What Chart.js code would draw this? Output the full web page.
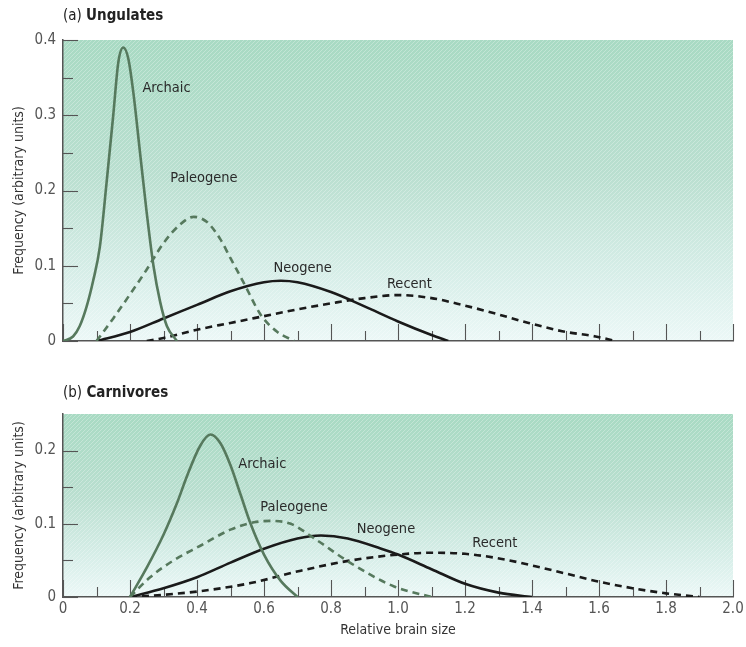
<!DOCTYPE html>
<html>
<head>
<meta charset="utf-8">
<script src="https://cdn.jsdelivr.net/npm/chart.js@4.4.1/dist/chart.umd.min.js"></script>
<style>
  body { margin: 0; width: 746px; height: 647px; background: #fff; position: relative; overflow: hidden;
         font-family: 'Liberation Sans Narrow', 'DejaVu Sans Condensed', 'Roboto Condensed', Roboto, sans-serif; }
  .ttl { position: absolute; left: 63px; font-size: 15px; color: #222; z-index: 2; }
  canvas { position: absolute; left: 0; }
</style>
</head>
<body>
<div class="ttl" style="top:6px">(a) <b>Ungulates</b></div>
<canvas id="chartA" width="746" height="360" style="top:0"></canvas>
<div class="ttl" style="top:383px">(b) <b>Carnivores</b></div>
<canvas id="chartB" width="746" height="272" style="top:375px"></canvas>
<script>
// (a) Ungulates
const ungArchaicX = [0, 0.03, 0.05, 0.07, 0.09, 0.11, 0.13, 0.15, 0.165, 0.18, 0.195, 0.21, 0.23, 0.25, 0.27, 0.29, 0.31, 0.34];
const ungArchaicY = [0, 0.006, 0.02, 0.045, 0.08, 0.125, 0.21, 0.3, 0.37, 0.39, 0.375, 0.33, 0.25, 0.17, 0.1, 0.052, 0.02, 0];
const ungPaleoX = [0.1, 0.15, 0.2, 0.25, 0.3, 0.35, 0.39, 0.43, 0.47, 0.5, 0.54, 0.59, 0.64, 0.69];
const ungPaleoY = [0, 0.03, 0.062, 0.095, 0.13, 0.155, 0.165, 0.158, 0.135, 0.11, 0.077, 0.035, 0.012, 0];
const ungNeoX = [0.1, 0.2, 0.3, 0.4, 0.5, 0.6, 0.65, 0.7, 0.8, 0.9, 1.0, 1.1, 1.15];
const ungNeoY = [0, 0.012, 0.03, 0.048, 0.066, 0.078, 0.08, 0.078, 0.065, 0.046, 0.026, 0.008, 0];
const ungRecentX = [0.25, 0.3, 0.4, 0.5, 0.6, 0.7, 0.8, 0.9, 1.0, 1.1, 1.2, 1.27, 1.39, 1.49, 1.59, 1.65];
const ungRecentY = [0, 0.004, 0.015, 0.024, 0.033, 0.042, 0.05, 0.057, 0.061, 0.057, 0.047, 0.039, 0.024, 0.013, 0.006, 0];

// (b) Carnivores
const carArchaicX = [0.2, 0.25, 0.3, 0.34, 0.37, 0.41, 0.44, 0.47, 0.5, 0.53, 0.56, 0.6, 0.65, 0.7];
const carArchaicY = [0, 0.04, 0.085, 0.128, 0.165, 0.207, 0.222, 0.21, 0.18, 0.14, 0.1, 0.058, 0.022, 0];
const carPaleoX = [0.2, 0.26, 0.33, 0.41, 0.5, 0.57, 0.62, 0.68, 0.75, 0.86, 0.99, 1.1];
const carPaleoY = [0, 0.027, 0.05, 0.07, 0.092, 0.102, 0.104, 0.1, 0.08, 0.046, 0.014, 0];
const carNeoX = [0.2, 0.3, 0.4, 0.5, 0.6, 0.7, 0.77, 0.85, 0.95, 1.0, 1.1, 1.2, 1.3, 1.4];
const carNeoY = [0, 0.012, 0.027, 0.047, 0.066, 0.08, 0.084, 0.08, 0.066, 0.058, 0.038, 0.018, 0.006, 0];
const carRecentX = [0.2, 0.3, 0.41, 0.56, 0.71, 0.86, 1.0, 1.1, 1.2, 1.31, 1.41, 1.51, 1.59, 1.7, 1.8, 1.9];
const carRecentY = [0, 0.003, 0.008, 0.019, 0.036, 0.05, 0.058, 0.0605, 0.059, 0.052, 0.042, 0.031, 0.022, 0.012, 0.005, 0];

// ticks
const xTickLabels = [0, 0.2, 0.4, 0.6, 0.8, 1.0, 1.2, 1.4, 1.6, 1.8, 2.0];
const xMinorMarks = [0.1, 0.3, 0.5, 0.7, 0.9, 1.1, 1.3, 1.5, 1.7, 1.9];
const yTicksA = [0, 0.1, 0.2, 0.3, 0.4];
const yMinorA = [0.05, 0.15, 0.25, 0.35];
const yTicksB = [0, 0.1, 0.2];
const yMinorB = [0.05, 0.15];

// curve labels (data coordinates)
const labelsA = [
  { text: 'Archaic', x: 0.237, y: 0.336 },
  { text: 'Paleogene', x: 0.32, y: 0.216 },
  { text: 'Neogene', x: 0.628, y: 0.097 },
  { text: 'Recent', x: 0.967, y: 0.076 }
];
const labelsB = [
  { text: 'Archaic', x: 0.523, y: 0.182 },
  { text: 'Paleogene', x: 0.589, y: 0.123 },
  { text: 'Neogene', x: 0.877, y: 0.093 },
  { text: 'Recent', x: 1.222, y: 0.074 }
];

const GREEN = '#56795d';
const BLACK = '#1a1a1a';
const FONT = "'Liberation Sans Narrow', 'DejaVu Sans Condensed', 'Roboto Condensed', Roboto, sans-serif";
Chart.defaults.font.family = FONT;

function pts(xs, ys) {
  return xs.map((x, i) => ({ x: x, y: ys[i] }));
}

function series(xs, ys, color, dashed) {
  return {
    data: pts(xs, ys),
    borderColor: color,
    borderWidth: 2.6,
    borderDash: dashed ? [7, 5] : [],
    pointRadius: 0,
    cubicInterpolationMode: 'monotone',
    fill: false
  };
}

// shaded panel background with a faint diagonal hatch
const panelBg = {
  id: 'panelBg',
  beforeDraw(chart) {
    const { ctx, chartArea: a } = chart;
    ctx.save();
    const g = ctx.createLinearGradient(0, a.top, 0, a.bottom);
    g.addColorStop(0, '#a8dac3');
    g.addColorStop(0.45, '#badfd0');
    g.addColorStop(0.8, '#d9efea');
    g.addColorStop(1, '#ecf8f7');
    ctx.fillStyle = g;
    ctx.fillRect(a.left, a.top, a.right - a.left, a.bottom - a.top);
    const p = document.createElement('canvas');
    p.width = 4; p.height = 4;
    const pc = p.getContext('2d');
    pc.strokeStyle = 'rgba(255,255,255,0.28)';
    pc.lineWidth = 1;
    pc.beginPath(); pc.moveTo(0, 4); pc.lineTo(4, 0); pc.stroke();
    ctx.fillStyle = ctx.createPattern(p, 'repeat');
    ctx.fillRect(a.left, a.top, a.right - a.left, a.bottom - a.top);
    ctx.restore();
  }
};

// tick marks pointing into the plot
const innerTicks = {
  id: 'innerTicks',
  beforeDatasetsDraw(chart, args, opts) {
    const { ctx, chartArea: a, scales: { x, y } } = chart;
    ctx.save();
    ctx.strokeStyle = '#555';
    ctx.lineWidth = 1.1;
    const line = (x1, y1, x2, y2) => { ctx.beginPath(); ctx.moveTo(x1, y1); ctx.lineTo(x2, y2); ctx.stroke(); };
    opts.xMajor.forEach(v => { const px = Math.round(x.getPixelForValue(v)) + 0.5; line(px, a.bottom, px, a.bottom - 17); });
    opts.xMinor.forEach(v => { const px = Math.round(x.getPixelForValue(v)) + 0.5; line(px, a.bottom, px, a.bottom - 10); });
    opts.yMajor.forEach(v => { const py = Math.round(y.getPixelForValue(v)) + 0.5; line(a.left, py, a.left + 15, py); });
    opts.yMinor.forEach(v => { const py = Math.round(y.getPixelForValue(v)) + 0.5; line(a.left, py, a.left + 10, py); });
    ctx.restore();
  }
};

const curveLabels = {
  id: 'curveLabels',
  afterDatasetsDraw(chart, args, opts) {
    const { ctx, scales: { x, y } } = chart;
    ctx.save();
    ctx.font = '14.5px ' + FONT;
    ctx.fillStyle = '#2a2a2a';
    ctx.textAlign = 'left';
    ctx.textBaseline = 'middle';
    opts.items.forEach(l => ctx.fillText(l.text, x.getPixelForValue(l.x), y.getPixelForValue(l.y)));
    ctx.restore();
  }
};

function fmt(v) {
  return v === 0 ? '0' : v.toFixed(1);
}

function makeChart(id, datasets, yMax, yTicks, yMinor, labels, showX, xHeight, padTop) {
  return new Chart(document.getElementById(id), {
    type: 'line',
    data: { datasets: datasets },
    plugins: [panelBg, innerTicks, curveLabels],
    options: {
      responsive: false,
      animation: false,
      layout: { padding: { top: padTop, right: 13, left: 0, bottom: 0 } },
      plugins: {
        legend: { display: false },
        tooltip: { enabled: false },
        innerTicks: { xMajor: xTickLabels, xMinor: xMinorMarks, yMajor: yTicks, yMinor: yMinor },
        curveLabels: { items: labels }
      },
      scales: {
        x: {
          type: 'linear',
          min: 0,
          max: 2,
          afterBuildTicks: s => { s.ticks = xTickLabels.map(v => ({ value: v })); },
          afterFit: s => { s.height = xHeight; s.paddingLeft = 0; s.paddingRight = 0; },
          grid: { display: false, drawTicks: false },
          border: { display: true, color: '#555', width: 1.5 },
          ticks: { display: showX, padding: 3, color: '#555', font: { size: 15 }, maxRotation: 0, callback: v => fmt(v) },
          title: { display: showX, text: 'Relative brain size', color: '#333', font: { size: 14 }, padding: { top: 0, bottom: 8 } }
        },
        y: {
          min: 0,
          max: yMax,
          afterBuildTicks: s => { s.ticks = yTicks.map(v => ({ value: v })); },
          afterFit: s => { s.width = 63; },
          grid: { display: false, drawTicks: false },
          border: { display: true, color: '#555', width: 1.5 },
          ticks: { padding: 7, color: '#555', font: { size: 15 }, callback: v => fmt(v) },
          title: { display: true, text: 'Frequency (arbitrary units)', color: '#333', font: { size: 14 }, padding: { top: 11, bottom: 0 } }
        }
      }
    }
  });
}

makeChart('chartA', [
  series(ungArchaicX, ungArchaicY, GREEN, false),
  series(ungPaleoX, ungPaleoY, GREEN, true),
  series(ungNeoX, ungNeoY, BLACK, false),
  series(ungRecentX, ungRecentY, BLACK, true)
], 0.4, yTicksA, yMinorA, labelsA, false, 19, 40);

makeChart('chartB', [
  series(carArchaicX, carArchaicY, GREEN, false),
  series(carPaleoX, carPaleoY, GREEN, true),
  series(carNeoX, carNeoY, BLACK, false),
  series(carRecentX, carRecentY, BLACK, true)
], 0.25, yTicksB, yMinorB, labelsB, true, 50, 39);
</script>
</body>
</html>
